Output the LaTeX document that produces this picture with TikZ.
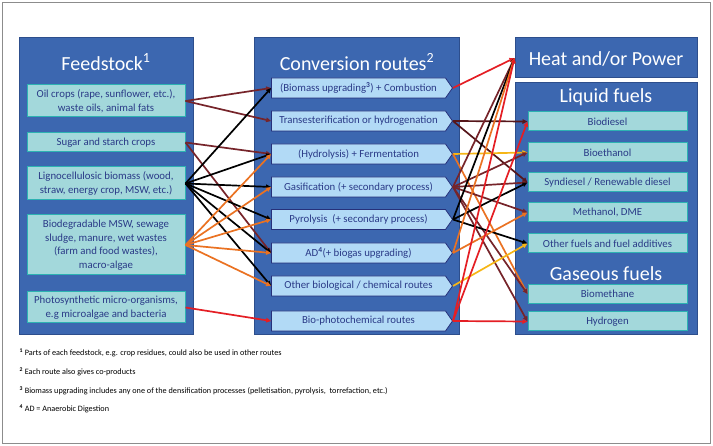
\documentclass[tikz,border=0pt]{standalone}
\usepackage{fontspec}
\setmainfont{Carlito}
\usetikzlibrary{shapes.symbols,arrows.meta}
\definecolor{azulpainel}{RGB}{60,103,176}
\definecolor{azulborda}{RGB}{45,78,140}
\definecolor{caixa}{RGB}{163,216,219}
\definecolor{caixaborda}{RGB}{45,178,178}
\definecolor{rotafundo}{RGB}{178,218,246}
\definecolor{rotaborda}{RGB}{38,48,122}
\definecolor{texto}{RGB}{42,58,135}
\definecolor{marrom}{RGB}{118,36,42}
\definecolor{marromesc}{RGB}{86,22,26}
\definecolor{laranja}{RGB}{234,114,34}
\definecolor{vermelho}{RGB}{228,30,36}
\definecolor{ambar}{RGB}{246,182,22}

\begin{document}
\begin{tikzpicture}[
	x=1pt, y=-1pt,
	font=\fontsize{10.8}{13.5}\selectfont,
	>={Triangle[length=5pt,width=4.5pt]},
	painel/.style={rectangle, draw=azulborda, fill=azulpainel, line width=1pt, inner sep=0pt},
	titulo/.style={text=white, font=\fontsize{20}{24}\selectfont},
	insumo/.style={rectangle, draw=caixaborda, fill=caixa, line width=1pt, text=texto, align=center, minimum width=158pt, inner sep=1pt},
	rota/.style={signal, signal to=east, signal pointer angle=110, draw=rotaborda, fill=rotafundo, line width=0.8pt, text=texto, minimum width=181pt, minimum height=20pt, inner sep=1pt},
	produto/.style={insumo, minimum width=159pt, minimum height=19pt},
	nota/.style={anchor=west, font=\fontsize{8.2}{10}\selectfont},
	seta/.style={->, line width=1.7pt},
]
\useasboundingbox (0,0) rectangle (713,446);
\node[draw=black!45, line width=0.8pt, minimum width=708pt, minimum height=441pt, inner sep=0pt] (moldura) at (356,222.5) {};

% paineis
\node[painel, minimum width=174pt, minimum height=297pt] (pinsumo) at (106,186.5) {};
\node[painel, minimum width=205pt, minimum height=297pt] (protas) at (356.5,186.5) {};
\node[painel, minimum width=182pt, minimum height=40pt] (heat) at (606,58) {};
\node[painel, minimum width=182pt, minimum height=252pt] (pliquido) at (606,209) {};

\node[titulo] (tinsumo) at (106,62) {Feedstock\textsuperscript{1}};
\node[titulo] (trotas) at (357,62) {Conversion routes\textsuperscript{2}};
\node[titulo] (theat) at (606,59) {Heat and/or Power};
\node[titulo] (tliquido) at (606,97) {Liquid fuels};
\node[titulo] (tgas) at (606,274) {Gaseous fuels};

% feedstock
\node[insumo, minimum height=32pt] (oil) at (106,101) {Oil crops (rape, sunflower, etc.),\\waste oils, animal fats};
\node[insumo, minimum height=19pt] (sugar) at (106,142.5) {Sugar and starch crops};
\node[insumo, minimum height=33pt] (ligno) at (106,183.5) {Lignocellulosic biomass (wood,\\straw, energy crop, MSW, etc.)};
\node[insumo, minimum height=60pt] (biodeg) at (106,245) {Biodegradable MSW, sewage\\sludge, manure, wet wastes\\(farm and food wastes),\\macro-algae};
\node[insumo, minimum height=31pt] (photo) at (106,307.5) {Photosynthetic micro-organisms,\\e.g microalgae and bacteria};

% rotas
\node[rota] (comb) at (358.5,88) {(Biomass upgrading\textsuperscript{\textbf{3}}) + Combustion};
\node[rota] (trans) at (358.5,121) {Transesterification or hydrogenation};
\node[rota] (hydro) at (358.5,154) {(Hydrolysis) + Fermentation};
\node[rota] (gasif) at (358.5,187) {Gasification (+ secondary process)};
\node[rota] (pyro) at (358.5,219.5) {Pyrolysis\ \ (+ secondary process)};
\node[rota] (ad) at (358.5,253) {AD\textsuperscript{\textbf{4}}(+ biogas upgrading)};
\node[rota] (other) at (358.5,286) {Other biological / chemical routes};
\node[rota] (bioph) at (358.5,321) {Bio-photochemical routes};

% produtos
\node[produto] (biodiesel) at (607.5,121.5) {Biodiesel};
\node[produto] (bioethanol) at (607.5,152.5) {Bioethanol};
\node[produto] (syndiesel) at (607.5,182.5) {Syndiesel / Renewable diesel};
\node[produto] (methanol) at (607.5,212.5) {Methanol, DME};
\node[produto] (otherfuel) at (607.5,243.5) {Other fuels and fuel additives};
\node[produto] (biomethane) at (607.5,294) {Biomethane};
\node[produto] (hydrogen) at (607.5,321.5) {Hydrogen};

% ligacoes insumo -> rota
\draw[seta, marrom] (oil.east) -- (comb.west);
\draw[seta, marrom] (oil.east) -- (trans.west);
\draw[seta, marrom] (sugar.east) -- (hydro.west);
\draw[seta, marrom] (sugar.east) -- (ad.west);
\foreach \r in {comb,hydro,gasif,pyro,ad,other}
	\draw[seta, black] (ligno.east) -- (\r.west);
\foreach \r in {hydro,gasif,pyro,ad,other}
	\draw[seta, laranja] (biodeg.east) -- (\r.west);
\draw[seta, vermelho] (photo.east) -- (bioph.west);

% ligacoes rota -> produto
\draw[seta, vermelho] (comb.east) -- (heat.west);
\draw[seta, marromesc] (trans.east) -- (biodiesel.west);
\draw[seta, marromesc] (trans.east) -- (syndiesel.west);
\draw[seta, ambar] (hydro.east) -- (bioethanol.west);
\draw[seta, laranja] (hydro.east) -- (biomethane.west);
\foreach \p in {heat,bioethanol,syndiesel,methanol,biomethane,hydrogen}
	\draw[seta, marrom] (gasif.east) -- (\p.west);
\foreach \p in {heat,syndiesel,otherfuel}
	\draw[seta, black] (pyro.east) -- (\p.west);
\draw[seta, laranja] (ad.east) -- (heat.west);
\draw[seta, laranja] (ad.east) -- (methanol.west);
\draw[seta, ambar] (other.east) -- (otherfuel.west);
\foreach \p in {heat,biodiesel,hydrogen}
	\draw[seta, vermelho] (bioph.east) -- (\p.west);

% notas
\node[nota] (n1) at (16,353) {\textsuperscript{\textbf{1}} Parts of each feedstock, e.g. crop residues, could also be used in other routes};
\node[nota] (n2) at (16,372) {\textsuperscript{\textbf{2}} Each route also gives co-products};
\node[nota] (n3) at (16,390.5) {\textsuperscript{\textbf{3}} Biomass upgrading includes any one of the densification processes (pelletisation, pyrolysis,\ \ torrefaction, etc.)};
\node[nota] (n4) at (16,409) {\textsuperscript{\textbf{4}} AD = Anaerobic Digestion};
\end{tikzpicture}
\end{document}
